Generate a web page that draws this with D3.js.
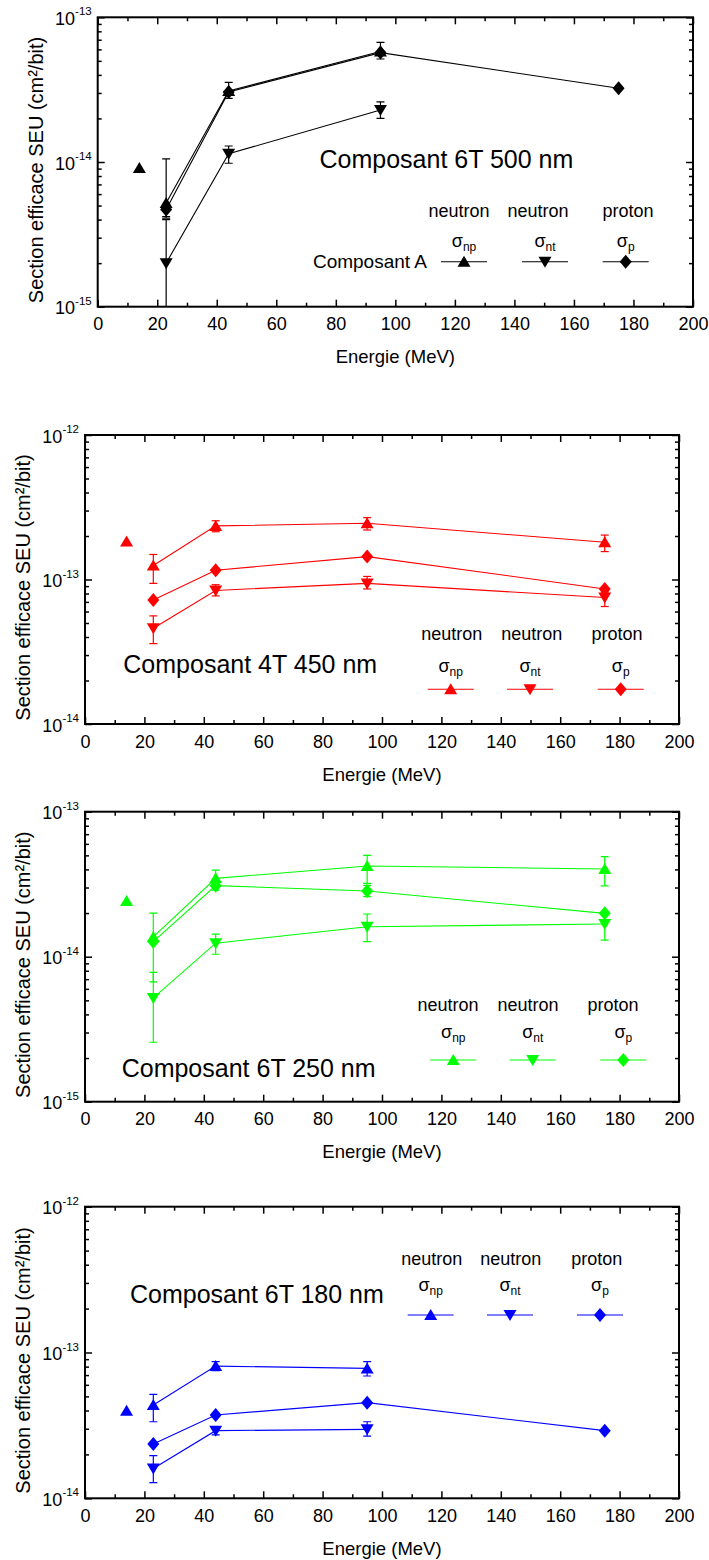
<!DOCTYPE html>
<html><head><meta charset="utf-8">
<script src="https://cdn.jsdelivr.net/npm/d3@7"></script>
<style>
body{margin:0;background:#fff}
svg{display:block}
text{font-family:'Liberation Sans',Arial,Helvetica,sans-serif;fill:#000}
</style>
</head><body>
<svg id="chart" width="709" height="1560"></svg>
<script>
// ---------------- DATA ----------------
const energies = [23, 44, 95, 175];      // MeV (neutron/proton beam energies)
const energy14 = 14;                      // isolated 14 MeV neutron point
const xTickValues = [0, 20, 40, 60, 80, 100, 120, 140, 160, 180, 200];
const xMinorValues = [10, 30, 50, 70, 90, 110, 130, 150, 170, 190];
const seriesNames = ["neutron", "neutron", "proton"];
const seriesSymbols = ["np", "nt", "p"];
const titles = ["Composant 6T 500 nm", "Composant 4T 450 nm", "Composant 6T 250 nm", "Composant 6T 180 nm"];
const legendTag = "Composant A";
const xTitle = "Energie (MeV)";
const yTitle = "Section efficace SEU (cm\u00B2/bit)";

// Panel 1 : 6T 500 nm
const c500_np14 = 9.1e-15;
const c500_np   = [5.2e-15, 3.1e-14, 5.8e-14, null];
const c500_npLo = [4.1e-15, 2.75e-14, 5.15e-14, null];
const c500_npHi = [1.05e-14, 3.55e-14, 6.7e-14, null];
const c500_nt   = [2.0e-15, 1.14e-14, 2.29e-14, null];
const c500_ntLo = [5e-16, 9.8e-15, 2.0e-14, null];
const c500_ntHi = [4.0e-15, 1.29e-14, 2.6e-14, null];
const c500_p    = [4.7e-15, 3.05e-14, 5.7e-14, 3.23e-14];
const c500_pLo  = [4.2e-15, null, null, null];
const c500_pHi  = [5.1e-15, null, null, null];

// Panel 2 : 4T 450 nm
const c450_np14 = 1.83e-13;
const c450_np   = [1.25e-13, 2.35e-13, 2.45e-13, 1.81e-13];
const c450_npLo = [9.4e-14, 2.14e-13, 2.2e-13, 1.56e-13];
const c450_npHi = [1.49e-13, 2.55e-13, 2.68e-13, 2.03e-13];
const c450_nt   = [4.6e-14, 8.4e-14, 9.4e-14, 7.5e-14];
const c450_ntLo = [3.6e-14, 7.7e-14, 8.6e-14, 6.5e-14];
const c450_ntHi = [5.6e-14, 9.2e-14, 1.05e-13, 8.2e-14];
const c450_p    = [7.2e-14, 1.16e-13, 1.44e-13, 8.6e-14];
const c450_pLo  = [null, null, null, null];
const c450_pHi  = [null, null, null, null];

// Panel 3 : 6T 250 nm
const c250_np14 = 2.42e-14;
const c250_np   = [1.37e-14, 3.47e-14, 4.22e-14, 4.03e-14];
const c250_npLo = [6.7e-15, 3.0e-14, 3.2e-14, 3.08e-14];
const c250_npHi = [2.0e-14, 3.96e-14, 5.0e-14, 4.9e-14];
const c250_nt   = [5.2e-15, 1.24e-14, 1.61e-14, 1.68e-14];
const c250_ntLo = [2.57e-15, 1.04e-14, 1.27e-14, 1.3e-14];
const c250_ntHi = [7.8e-15, 1.43e-14, 1.97e-14, 1.94e-14];
const c250_p    = [1.27e-14, 3.09e-14, 2.84e-14, 1.99e-14];
const c250_pLo  = [null, 2.88e-14, 2.6e-14, null];
const c250_pHi  = [null, 3.2e-14, 3.1e-14, null];

// Panel 4 : 6T 180 nm
const c180_np14 = 3.99e-14;
const c180_np   = [4.36e-14, 8.07e-14, 7.78e-14, null];
const c180_npLo = [3.35e-14, 7.5e-14, 6.9e-14, null];
const c180_npHi = [5.16e-14, 8.65e-14, 8.65e-14, null];
const c180_nt   = [1.6e-14, 2.91e-14, 2.97e-14, null];
const c180_ntLo = [1.28e-14, 2.72e-14, 2.67e-14, null];
const c180_ntHi = [1.96e-14, 3.1e-14, 3.35e-14, null];
const c180_p    = [2.36e-14, 3.73e-14, 4.53e-14, 2.91e-14];
const c180_pLo  = [null, null, null, null];
const c180_pHi  = [null, null, null, null];

// ---------------- LAYOUT / STYLE ----------------
const layout = [
  {color:"#000000", left:97.7, right:693, top:17.3, bottom:306.7, yDomain:[1e-15,1e-13],
   titleX:319.5, titleBase:168.3,
   legMark:[464,545,625.7], legLabelX:[459,538,628], legLabelBase:217.3, legSigmaBase:246.5, legMarkY:261.7, tag:true},
  {color:"#ff0000", left:85, right:679, top:435, bottom:724, yDomain:[1e-14,1e-12],
   titleX:123.3, titleBase:673.3,
   legMark:[450.7,530,620.7], legLabelX:[451.7,531.7,617], legLabelBase:640, legSigmaBase:671.5, legMarkY:689.3, tag:false},
  {color:"#00ff00", left:85, right:679, top:811.7, bottom:1101.7, yDomain:[1e-15,1e-13],
   titleX:121.7, titleBase:1076.7,
   legMark:[453.3,532.7,623.3], legLabelX:[448,528,613], legLabelBase:1010.7, legSigmaBase:1038.3, legMarkY:1060, tag:false},
  {color:"#0000ff", left:85, right:679, top:1206.7, bottom:1498.3, yDomain:[1e-14,1e-12],
   titleX:130, titleBase:1303.3,
   legMark:[430.7,510,600], legLabelX:[431.7,510.7,596.7], legLabelBase:1265, legSigmaBase:1291, legMarkY:1315, tag:false}
];

const panelData = [
  {np14:c500_np14, series:[[c500_np,c500_npLo,c500_npHi],[c500_nt,c500_ntLo,c500_ntHi],[c500_p,c500_pLo,c500_pHi]]},
  {np14:c450_np14, series:[[c450_np,c450_npLo,c450_npHi],[c450_nt,c450_ntLo,c450_ntHi],[c450_p,c450_pLo,c450_pHi]]},
  {np14:c250_np14, series:[[c250_np,c250_npLo,c250_npHi],[c250_nt,c250_ntLo,c250_ntHi],[c250_p,c250_pLo,c250_pHi]]},
  {np14:c180_np14, series:[[c180_np,c180_npLo,c180_npHi],[c180_nt,c180_ntLo,c180_ntHi],[c180_p,c180_pLo,c180_pHi]]}
];

const markerPaths = [
  "M0,-6 L6.5,5 L-6.5,5 Z",       // triangle up
  "M0,6 L6.5,-5 L-6.5,-5 Z",       // triangle down
  "M0,-7 L6,0 L0,7 L-6,0 Z"        // diamond
];

const svg = d3.select("#chart");

layout.forEach((L, pi) => {
  const D = panelData[pi];
  const g = svg.append("g");
  const x = d3.scaleLinear().domain([0, 200]).range([L.left, L.right]);
  const y = d3.scaleLog().domain(L.yDomain).range([L.bottom, L.top]);
  const h = L.bottom - L.top, w = L.right - L.left;

  const e0 = Math.round(Math.log10(L.yDomain[0])), e1 = Math.round(Math.log10(L.yDomain[1]));
  const decades = d3.range(e0, e1 + 1).map(e => Math.pow(10, e));
  const minors = [];
  for (let e = e0; e < e1; e++) for (let m = 2; m <= 9; m++) minors.push(m * Math.pow(10, e));

  // clip
  const cid = "clip" + pi;
  g.append("clipPath").attr("id", cid).append("rect")
    .attr("x", L.left).attr("y", L.top).attr("width", w).attr("height", h);

  // axes (ticks inward)
  const axStyle = sel => { sel.select(".domain").remove(); sel.selectAll(".tick line").attr("stroke", "#000").attr("stroke-width", 1.5); };
  g.append("g").attr("transform", `translate(0,${L.bottom})`)
    .call(d3.axisBottom(x).tickValues(xTickValues).tickSize(-7).tickPadding(14).tickFormat(d3.format("d")))
    .call(axStyle)
    .call(s => s.selectAll(".tick text").attr("font-size", 18).attr("fill", "#000").attr("dy", 0).attr("y", 23.5));
  g.append("g").attr("transform", `translate(0,${L.bottom})`)
    .call(d3.axisBottom(x).tickValues(xMinorValues).tickSize(-4).tickFormat(""))
    .call(axStyle);
  g.append("g").attr("transform", `translate(0,${L.top})`)
    .call(d3.axisTop(x).tickValues(xTickValues).tickSize(-7).tickFormat(""))
    .call(axStyle);
  g.append("g").attr("transform", `translate(0,${L.top})`)
    .call(d3.axisTop(x).tickValues(xMinorValues).tickSize(-4).tickFormat(""))
    .call(axStyle);

  const yl = g.append("g").attr("transform", `translate(${L.left},0)`)
    .call(d3.axisLeft(y).tickValues(decades).tickSize(-7).tickFormat(""))
    .call(axStyle);
  yl.selectAll(".tick").append("text")
    .attr("x", -6).attr("y", 7).attr("text-anchor", "end").attr("font-size", 18)
    .each(function(d) {
      const t = d3.select(this);
      t.append("tspan").text("10");
      t.append("tspan").attr("dy", -9.5).attr("font-size", 11.5).text(String(Math.round(Math.log10(d))));
    });
  g.append("g").attr("transform", `translate(${L.left},0)`)
    .call(d3.axisLeft(y).tickValues(minors).tickSize(-4).tickFormat(""))
    .call(axStyle);
  g.append("g").attr("transform", `translate(${L.right},0)`)
    .call(d3.axisRight(y).tickValues(decades).tickSize(-7).tickFormat(""))
    .call(axStyle);
  g.append("g").attr("transform", `translate(${L.right},0)`)
    .call(d3.axisRight(y).tickValues(minors).tickSize(-4).tickFormat(""))
    .call(axStyle);

  // frame
  g.append("rect").attr("x", L.left).attr("y", L.top).attr("width", w).attr("height", h)
    .attr("fill", "none").attr("stroke", "#000").attr("stroke-width", 2);

  // axis titles
  g.append("text").attr("x", (L.left + L.right) / 2).attr("y", L.bottom + 56.6)
    .attr("text-anchor", "middle").attr("font-size", 18.5).text(xTitle);
  g.append("text")
    .attr("transform", `translate(${L.left - 55},${(L.top + L.bottom) / 2 + 8}) rotate(-90)`)
    .attr("text-anchor", "middle").attr("font-size", 20).text(yTitle);

  // data
  const dg = g.append("g").attr("clip-path", `url(#${cid})`);
  const line = d3.line().x(d => x(d.x)).y(d => y(d.y));
  const cap = 4;
  D.series.forEach((S, si) => {
    const pts = energies.map((e, i) => ({x: e, y: S[0][i], lo: S[1][i], hi: S[2][i]})).filter(d => d.y != null);
    // error bars
    pts.filter(d => d.lo != null && d.hi != null).forEach(d => {
      const eg = dg.append("g").attr("stroke", L.color).attr("stroke-width", 1.2);
      eg.append("line").attr("x1", x(d.x)).attr("x2", x(d.x)).attr("y1", y(d.lo)).attr("y2", y(d.hi));
      eg.append("line").attr("x1", x(d.x) - cap).attr("x2", x(d.x) + cap).attr("y1", y(d.lo)).attr("y2", y(d.lo));
      eg.append("line").attr("x1", x(d.x) - cap).attr("x2", x(d.x) + cap).attr("y1", y(d.hi)).attr("y2", y(d.hi));
    });
    dg.append("path").datum(pts).attr("d", line)
      .attr("fill", "none").attr("stroke", L.color).attr("stroke-width", 1.1);
    dg.selectAll(null).data(pts).enter().append("path")
      .attr("d", markerPaths[si]).attr("fill", L.color)
      .attr("transform", d => `translate(${x(d.x)},${y(d.y)})`);
  });
  // isolated 14 MeV point
  dg.append("path").attr("d", markerPaths[0]).attr("fill", L.color)
    .attr("transform", `translate(${x(energy14)},${y(D.np14)})`);

  // title
  g.append("text").attr("x", L.titleX).attr("y", L.titleBase).attr("font-size", 25).text(titles[pi]);

  // legend
  seriesNames.forEach((nm, si) => {
    const mx = L.legMark[si];
    g.append("text").attr("x", L.legLabelX[si]).attr("y", L.legLabelBase)
      .attr("text-anchor", "middle").attr("font-size", 18).text(nm);
    const st = g.append("text").attr("x", mx).attr("y", L.legSigmaBase)
      .attr("text-anchor", "middle").attr("font-size", 18);
    st.append("tspan").text("\u03C3");
    st.append("tspan").attr("dy", 4).attr("font-size", 12).text(seriesSymbols[si]);
    g.append("line").attr("x1", mx - 23).attr("x2", mx + 23).attr("y1", L.legMarkY).attr("y2", L.legMarkY)
      .attr("stroke", L.color).attr("stroke-width", 1.1);
    g.append("path").attr("d", markerPaths[si]).attr("fill", L.color)
      .attr("transform", `translate(${mx},${L.legMarkY})`);
  });
  if (L.tag) {
    g.append("text").attr("x", 427).attr("y", L.legMarkY + 6.6)
      .attr("text-anchor", "end").attr("font-size", 19).text(legendTag);
  }
});
</script>
</body></html>
